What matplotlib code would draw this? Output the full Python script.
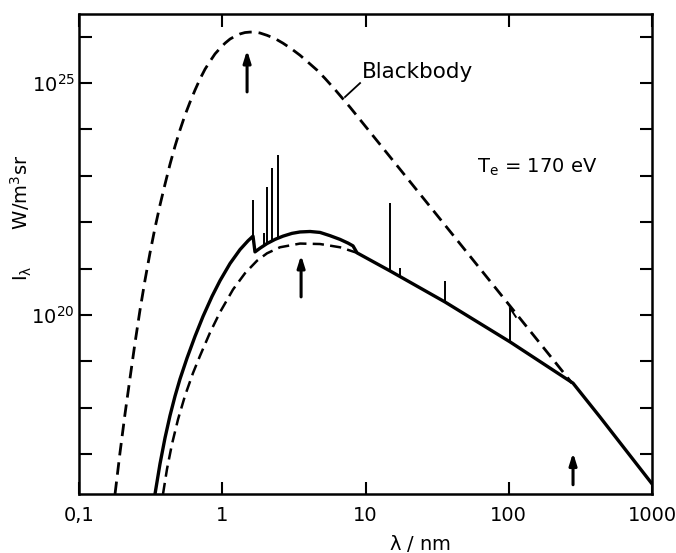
import numpy as np
import matplotlib
matplotlib.use("Agg")
import matplotlib.pyplot as plt
from matplotlib.ticker import FixedLocator, FixedFormatter, NullLocator

plt.rcParams['font.family'] = ['DejaVu Sans']
plt.rcParams['mathtext.default'] = 'regular'

# wavelength in nm, intensity as log10(W/m^3 sr)
bb_lam = [0.1784, 0.1932, 0.2095, 0.2270, 0.2460, 0.2666, 0.2888, 0.3130, 0.3392, 0.3675,
          0.3984, 0.4317, 0.4679, 0.5070, 0.5495, 0.5955, 0.6454, 0.6994, 0.7580, 0.8214,
          0.8901, 0.9645, 1.045, 1.133, 1.227, 1.330, 1.441, 1.562, 1.692, 1.834,
          2.053, 2.335, 2.656, 3.068, 3.490, 3.969, 4.585, 5.217, 6.126, 7.795, 46.4, 276.4]
bb_log = [16.14, 17.03, 17.87, 18.64, 19.40, 20.11, 20.75, 21.34, 21.88, 22.37,
          22.82, 23.25, 23.64, 23.99, 24.31, 24.59, 24.85, 25.09, 25.30, 25.47,
          25.63, 25.75, 25.86, 25.95, 26.01, 26.06, 26.09, 26.10, 26.10, 26.08,
          26.03, 25.96, 25.86, 25.73, 25.60, 25.45, 25.28, 25.10, 24.86, 24.48, 21.51, 18.53]

spec_lam = [0.3392, 0.3675, 0.3984, 0.4317, 0.4679, 0.5070, 0.5674, 0.6454, 0.7340, 0.8479,
            0.9645, 1.133, 1.330, 1.513, 1.639, 1.692, 1.834, 2.053, 2.335, 2.656,
            3.068, 3.490, 4.099, 4.813, 5.651, 6.637, 7.548, 8.178, 8.724, 14.83,
            35.89, 102.0, 280.9, 433.5, 1000]
spec_log = [16.14, 16.79, 17.35, 17.83, 18.25, 18.62, 19.07, 19.54, 19.97, 20.40,
            20.74, 21.11, 21.41, 21.60, 21.70, 21.36, 21.44, 21.54, 21.63, 21.70,
            21.76, 21.79, 21.80, 21.78, 21.71, 21.63, 21.55, 21.49, 21.34, 20.95,
            20.28, 19.42, 18.53, 17.80, 16.36]

cont_lam = [0.3858, 0.4114, 0.4459, 0.4911, 0.5495, 0.6250, 0.6994, 0.8214, 0.9645, 1.189,
            1.441, 1.748, 2.053, 2.530, 3.490, 4.813, 6.637, 8.724]
cont_log = [16.14, 16.68, 17.22, 17.75, 18.26, 18.75, 19.12, 19.62, 20.06, 20.55,
            20.90, 21.17, 21.33, 21.46, 21.54, 21.53, 21.46, 21.34]

line_lam = [1.64, 1.95, 2.05, 2.22, 2.45, 14.8, 17.4, 35.9, 102]
line_base = [21.70, 21.51, 21.54, 21.57, 21.63, 20.95, 20.82, 20.28, 19.42]
line_top = [22.48, 21.77, 22.76, 23.17, 23.45, 22.41, 21.01, 20.73, 20.15]

edge_lam = [102, 112]
edge_log = [20.15, 19.96]

arrow_lam = [1.49, 3.55, 281]
arrow_from = [24.81, 20.39, 16.34]
arrow_to = [25.71, 21.29, 17.03]

xticks = [0.1, 1, 10, 100, 1000]
xticklabels = ['0,1', '1', '10', '100', '1000']
ydecades = list(range(17, 27))

fig = plt.figure(figsize=(6.76, 5.53), dpi=100)
ax = fig.add_axes([0.1169, 0.1067, 0.8476, 0.868])

ax.plot(bb_lam, 10.0**np.array(bb_log), color='black', lw=2.0, dashes=(4.5, 2.5))
ax.plot(cont_lam, 10.0**np.array(cont_log), color='black', lw=1.8, dashes=(4.5, 2.5))
ax.plot(spec_lam, 10.0**np.array(spec_log), color='black', lw=2.4)
ax.vlines(line_lam, 10.0**np.array(line_base), 10.0**np.array(line_top), color='black', lw=1.4)
ax.plot(edge_lam, 10.0**np.array(edge_log), color='black', lw=1.4)

for lam, y0, y1 in zip(arrow_lam, arrow_from, arrow_to):
    ax.annotate('', xy=(lam, 10.0**y1), xytext=(lam, 10.0**y0),
                arrowprops=dict(arrowstyle='-|>,head_length=0.7,head_width=0.22',
                                color='black', lw=2.2, shrinkA=0, shrinkB=0))

ax.text(9.5, 10.0**25.24, 'Blackbody', fontsize=15.5, ha='left', va='center')
ax.plot([9.16, 7.19], [10.0**25.0, 10.0**24.70], color='black', lw=1.3)
ax.text(60, 10.0**23.19, 'T$_e$ = 170 eV', fontsize=14, ha='left', va='center')

ax.set_xscale('log')
ax.set_yscale('log')
ax.set_xlim(0.1, 1000)
ax.set_ylim(10.0**16.14, 10.0**26.49)

ax.xaxis.set_major_locator(FixedLocator(xticks))
ax.xaxis.set_major_formatter(FixedFormatter(xticklabels))
ax.xaxis.set_minor_locator(NullLocator())
ax.yaxis.set_major_locator(FixedLocator([10.0**d for d in ydecades]))
ax.yaxis.set_major_formatter(FixedFormatter(
    ['$10^{%d}$' % d if d in (20, 25) else '' for d in ydecades]))
ax.yaxis.set_minor_locator(NullLocator())

ax.tick_params(axis='both', direction='in', length=9, width=1.5, labelsize=14,
               top=True, right=True)
ax.tick_params(axis='x', pad=9)
ax.tick_params(axis='y', pad=3)
for s in ax.spines.values():
    s.set_linewidth(1.8)

fig.text(0.032, 0.606, 'I$_\\lambda$      W/m$^3$sr', rotation=90, fontsize=14,
         ha='center', va='center')
fig.text(0.621, 0.018, '$\\lambda$ / nm', fontsize=14, ha='center', va='center')

fig.savefig('out.png', dpi=100)
